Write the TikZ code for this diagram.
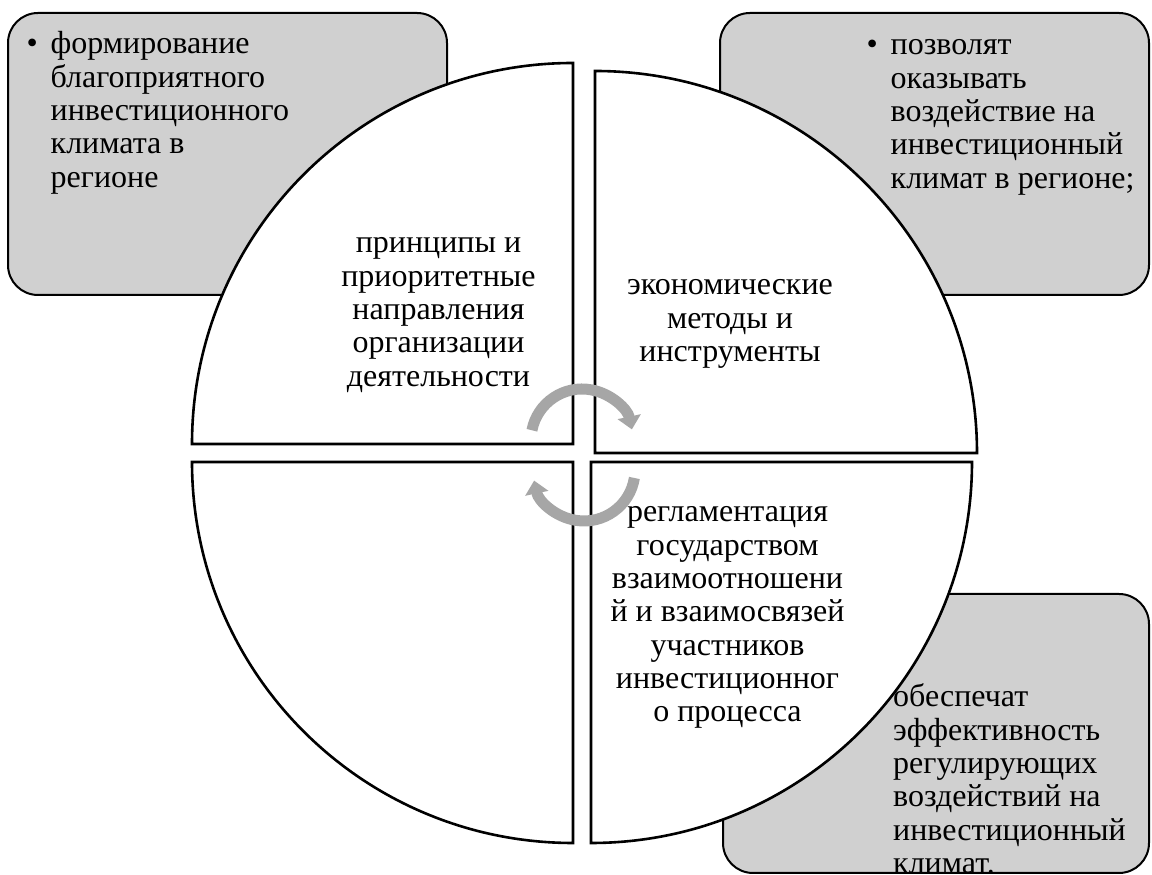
\documentclass[tikz,border=0pt]{standalone}
\usepackage{fontspec}
\setmainfont{Liberation Serif}
\usetikzlibrary{arrows.meta}
\definecolor{boxgray}{RGB}{208,208,208}
\definecolor{arrowgray}{RGB}{166,166,166}
\begin{document}
\begin{tikzpicture}[x=1pt,y=1pt,
  box/.style={draw=black, line width=2pt, fill=boxgray, rounded corners=30pt},
  quad/.style={draw=black, line width=2.6pt, fill=white, line join=miter},
  cyc/.style={draw=arrowgray, line width=11pt, -{Triangle[width=23pt,length=13pt]}},
  txt/.style={inner sep=0pt, font=\fontsize{32}{33.3}\selectfont}
]
\useasboundingbox (0,0) rectangle (1152,875);

% grey boxes
\draw[box] (8,580) rectangle (447,862);
\draw[box] (720,580) rectangle (1149,862);
\draw[box] (723,2) rectangle (1149,281);

% box texts
\node[txt, anchor=base west] (t1) at (26.5,821) {\begin{tabular}[t]{@{}l@{}l@{}}\makebox[24pt][l]{•}&формирование\\
&благоприятного\\ &инвестиционного\\ &климата в\\ &регионе\end{tabular}};
\node[txt, anchor=base west] (t2) at (866.5,820) {\begin{tabular}[t]{@{}l@{}l@{}}\makebox[24pt][l]{•}&позволят\\
&оказывать\\ &воздействие на\\ &инвестиционный\\ &климат в регионе;\end{tabular}};

% quadrants
\draw[quad] (573,431) -- (192,431) arc[start angle=180,end angle=90,radius=381] -- cycle;
\draw[quad] (595,422) -- (595,804) arc[start angle=90,end angle=0,radius=382] -- cycle;
\draw[quad] (573,413) -- (573,32) arc[start angle=-90,end angle=-180,radius=381] -- cycle;
\draw[quad] (591,413) -- (972,413) arc[start angle=0,end angle=-90,radius=381] -- cycle;

% quadrant texts
\node[txt, anchor=base] (q1) at (438.5,622) {\begin{tabular}[t]{@{}c@{}}принципы и\\ приоритетные\\ направления\\ организации\\ деятельности\end{tabular}};
\node[txt, anchor=base] (q2) at (730,580) {\begin{tabular}[t]{@{}c@{}}экономические\\ методы и\\ инструменты\end{tabular}};
\node[txt, anchor=base] (q4) at (727.5,353) {\begin{tabular}[t]{@{}c@{}}регламентация\\ государством\\ взаимоотношени\\ й и взаимосвязей\\ участников\\ инвестиционног\\ о процесса\end{tabular}};

\node[txt, anchor=base west] (t3) at (893,168) {\begin{tabular}[t]{@{}l@{}}обеспечат\\ эффективность\\ регулирующих\\ воздействий на\\ инвестиционный\\ климат.\end{tabular}};

% circular arrows
\draw[cyc] ([shift={(169:51)}]582,435) arc[start angle=169,end angle=12,radius=51];
\draw[cyc] ([shift={(-9:51)}]584,405) arc[start angle=-9,end angle=-168,radius=51];
\end{tikzpicture}
\end{document}
